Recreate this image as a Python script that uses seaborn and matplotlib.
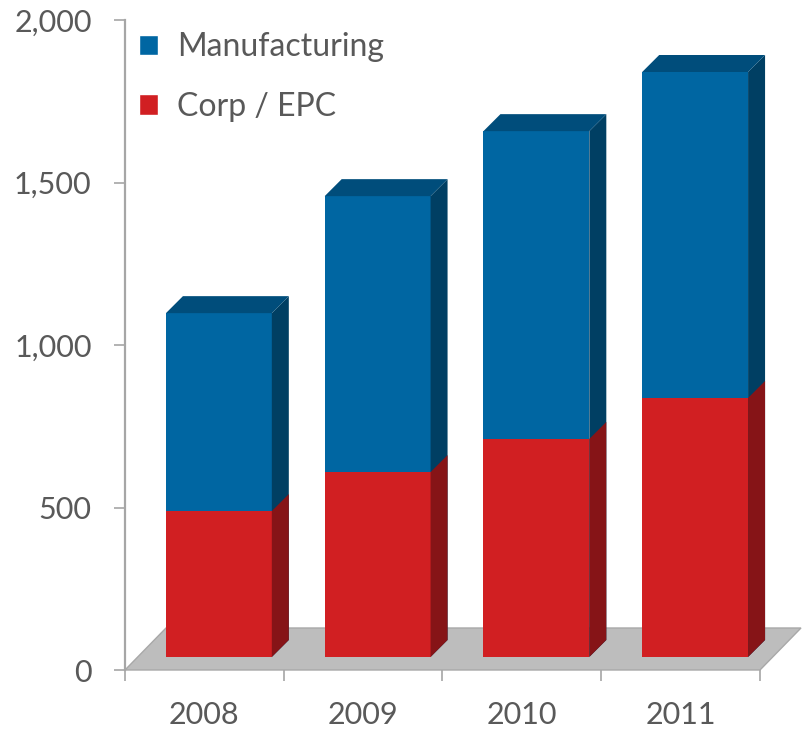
import matplotlib
matplotlib.use("Agg")
import matplotlib.pyplot as plt
from matplotlib.patches import Polygon, Patch
import pandas as pd
import seaborn as sns

# values
years = ["2008", "2009", "2010", "2011"]
corp_epc = [449, 569, 671, 797]
manufacturing = [609, 849, 947, 1003]
y_ticks = [0, 500, 1000, 1500, 2000]

df = pd.DataFrame({"year": years, "corp": corp_epc, "mfg": manufacturing})
df["total"] = df["corp"] + df["mfg"]

blue, blue_top, blue_side = "#0066A2", "#004D7B", "#003F63"
red, red_side = "#D11F22", "#861417"
text_grey, axis_grey = "#595959", "#A6A6A6"

sns.set_theme(style="white")
plt.rcParams["font.family"] = ["Lato", "DejaVu Sans"]

W, H = 803, 731
fig = plt.figure(figsize=(W / 100, H / 100), dpi=100)
ax = fig.add_axes([125 / W, 61 / H, 635 / W, 650 / H])

sns.barplot(data=df, x="year", y="total", color=blue, saturation=1,
            width=0.667, linewidth=0, ax=ax, zorder=3)
sns.barplot(data=df, x="year", y="corp", color=red, saturation=1,
            width=0.667, linewidth=0, ax=ax, zorder=4)

ax.set_xlim(-0.5, 3.5)
ax.set_ylim(0, 2000)

# pixel -> data conversion for the fake 3D depth
px_x = 635 / 4
px_y = 650 / 2000
fx, fy = 14.5 / px_x, 13 / px_y      # bar front offset from floor edge
dx, dy = 17 / px_x, 17 / px_y        # bar depth
flx, fly = 41 / px_x, 42 / px_y      # floor depth

# floor
ax.add_patch(Polygon([(-0.5, 0), (3.5, 0), (3.5 + flx, fly), (-0.5 + flx, fly)],
                     closed=True, facecolor="#BDBDBD", edgecolor="#A8A8A8",
                     lw=1, zorder=1, clip_on=False))

n = len(years)
bars = list(ax.patches)[:2 * n]
for i, p in enumerate(bars):
    p.set_x(p.get_x() + fx)
    p.set_y(p.get_y() + fy)
    p.set_clip_on(False)
    x0, y0 = p.get_x(), p.get_y()
    x1, y1 = x0 + p.get_width(), y0 + p.get_height()
    is_blue = i < n
    side = [(x1, y0), (x1 + dx, y0 + dy), (x1 + dx, y1 + dy), (x1, y1)]
    ax.add_patch(Polygon(side, closed=True, lw=0, clip_on=False,
                         facecolor=blue_side if is_blue else red_side,
                         zorder=3 if is_blue else 4))
    if is_blue:
        top = [(x0, y1), (x1, y1), (x1 + dx, y1 + dy), (x0 + dx, y1 + dy)]
        ax.add_patch(Polygon(top, closed=True, lw=0, clip_on=False,
                             facecolor=blue_top, zorder=3))

# axes styling
for s in ["top", "right", "bottom"]:
    ax.spines[s].set_visible(False)
ax.spines["left"].set_color(axis_grey)
ax.spines["left"].set_linewidth(1.6)

ax.set_yticks(y_ticks)
ax.set_yticklabels([f"{v:,}" for v in y_ticks])
ax.tick_params(axis="y", direction="out", length=8, width=1.2, color=axis_grey,
               pad=16, labelsize=22, labelcolor=text_grey, left=True)
ax.set_xticks(range(n))
ax.set_xticklabels(years)
ax.set_xticks([i - 0.5 for i in range(n + 1)], minor=True)
ax.tick_params(axis="x", which="major", length=0, pad=22, labelsize=22,
               labelcolor=text_grey)
ax.tick_params(axis="x", which="minor", direction="out", length=8, width=1.2,
               color=axis_grey, bottom=True)
ax.set_xlabel("")
ax.set_ylabel("")

handles = [Patch(facecolor=blue, label="Manufacturing"),
           Patch(facecolor=red, label="Corp / EPC")]
ax.legend(handles=handles, loc="upper left", bbox_to_anchor=(139 / W, 1 - 32 / H),
          bbox_transform=fig.transFigure, frameon=False, fontsize=23,
          labelcolor=text_grey, handlelength=0.6, handleheight=0.6,
          handletextpad=0.6, labelspacing=0.93, borderpad=0, borderaxespad=0)

fig.savefig("out.png", dpi=100)
